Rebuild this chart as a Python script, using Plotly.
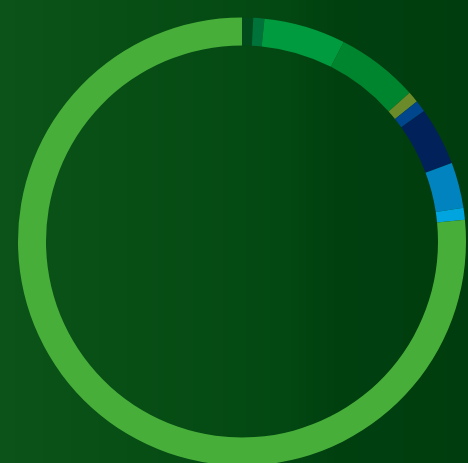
import plotly.graph_objects as go

# Segment data (clockwise from 12 o'clock)
categories = ["Gap", "Segment A", "Segment B", "Segment C", "Segment D",
              "Segment E", "Segment F", "Segment G", "Segment H", "Segment I"]
values = [0.8, 0.8, 5.9, 5.95, 0.8, 0.85, 4.2, 3.3, 0.85, 76.55]
colors = ["#004a1b", "#00733a", "#009b3e", "#00852f", "#6b8a2a",
          "#00468c", "#00215a", "#0083bf", "#00a5e0", "#48ae3a"]

# Background shading (horizontal gradient, left to right)
bg_pos = [0.0, 0.3, 0.6, 0.72, 1.0]
bg_colors = ["#0b5318", "#074e15", "#034812", "#00400f", "#003d0e"]

W, H = 468, 470
cx, cy, R = 242, 241.5, 224

fig = go.Figure()

fig.add_trace(go.Heatmap(
    x=[p * W for p in bg_pos],
    y=[0, H],
    z=[bg_pos, bg_pos],
    colorscale=[[p, c] for p, c in zip(bg_pos, bg_colors)],
    zmin=0, zmax=1,
    zsmooth="best",
    showscale=False,
    hoverinfo="skip",
))

fig.add_trace(go.Pie(
    labels=categories,
    values=values,
    marker=dict(colors=colors, line=dict(width=0)),
    hole=196 / 224,
    sort=False,
    direction="clockwise",
    rotation=0,
    textinfo="none",
    hoverinfo="label+percent",
    showlegend=False,
    domain=dict(x=[(cx - R) / W, (cx + R) / W],
                y=[(H - cy - R) / H, (H - cy + R) / H]),
))

fig.update_layout(
    width=W, height=H,
    margin=dict(l=0, r=0, t=0, b=0),
    paper_bgcolor="#074d16",
    plot_bgcolor="#074d16",
    xaxis=dict(visible=False, range=[0, W], fixedrange=True),
    yaxis=dict(visible=False, range=[0, H], fixedrange=True),
)

fig.write_html("out.html")
